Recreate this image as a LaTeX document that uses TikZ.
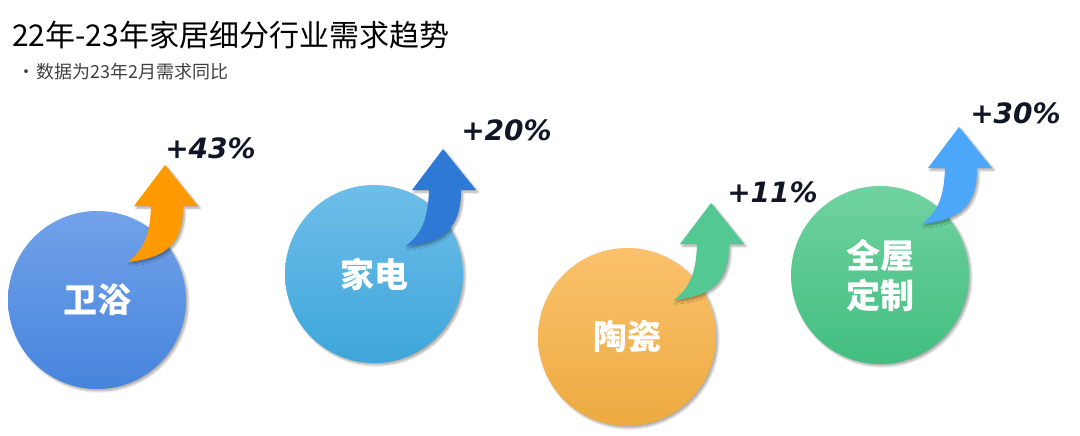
\documentclass[tikz,border=0pt]{standalone}
\usepackage{fontspec}
\usepackage{tikz}
\usetikzlibrary{shadows.blur}
\newfontfamily\cjk{Noto Sans CJK SC}
\newfontfamily\pctfont{DejaVu Sans}

\definecolor{weiyuTop}{RGB}{114,162,234}
\definecolor{weiyuBot}{RGB}{70,132,220}
\definecolor{jiadianTop}{RGB}{110,190,234}
\definecolor{jiadianBot}{RGB}{62,166,218}
\definecolor{taociTop}{RGB}{251,193,108}
\definecolor{taociBot}{RGB}{236,170,64}
\definecolor{dingzhiTop}{RGB}{112,210,160}
\definecolor{dingzhiBot}{RGB}{66,190,128}
\definecolor{arrowOrange}{RGB}{255,153,0}
\definecolor{arrowBlue}{RGB}{46,120,214}
\definecolor{arrowGreen}{RGB}{84,200,146}
\definecolor{arrowSky}{RGB}{76,166,250}
\definecolor{pctInk}{RGB}{16,22,38}
\definecolor{subInk}{RGB}{64,64,64}

\tikzset{
  ball/.style={circle, minimum size=133.5pt, inner sep=0pt, shading=axis,
    text=white, font=\cjk\bfseries\fontsize{25.5}{32}\selectfont, align=center,
    blur shadow={shadow xshift=1.5pt, shadow yshift=-1.5pt, shadow blur steps=6, shadow opacity=35}},
  pct/.style={anchor=west, inner sep=0pt, text=pctInk,
    font=\pctfont\bfseries\itshape\fontsize{21}{25}\selectfont},
  growarrow/.pic={
    \fill[yscale=-1, blur shadow={shadow xshift=1.5pt, shadow yshift=-1.5pt, shadow blur steps=5, shadow opacity=35}]
      (0,0) -- (33,41) -- (18,41) .. controls (18,80) and (0,93) .. (-37,97)
      .. controls (-22,85) and (-15,72) .. (-14,41) -- (-31,41) -- cycle;
  }
}

\begin{document}
\begin{tikzpicture}[x=0.75pt,y=0.75pt,yscale=-1,xscale=1]
  \useasboundingbox (0,0) rectangle (1080,435);
  \node (title)    at (12,35) [anchor=west, inner sep=0pt, font=\cjk\fontsize{22.5}{27}\selectfont] {22年-23年家居细分行业需求趋势};
  \node (subtitle) at (17,72) [anchor=west, inner sep=0pt, text=subInk, font=\cjk\fontsize{13.5}{16}\selectfont] {•\hspace{1pt}数据为23年2月需求同比};
  % circles
  \node (weiyu)   at (97,300)  [ball, top color=weiyuTop, bottom color=weiyuBot]     {卫浴};
  \node (jiadian) at (374,274) [ball, top color=jiadianTop, bottom color=jiadianBot] {家电};
  \node (taoci)   at (627,337) [ball, top color=taociTop, bottom color=taociBot]     {陶瓷};
  \node (dingzhi) at (880,275) [ball, top color=dingzhiTop, bottom color=dingzhiBot] {全屋\\[-2pt]定制};
  % arrows
  \pic [fill=arrowOrange] at (165,165) {growarrow};
  \pic [fill=arrowBlue]   at (443,149) {growarrow};
  \pic [fill=arrowGreen]  at (711,203) {growarrow};
  \pic [fill=arrowSky]    at (959,127) {growarrow};
  % growth labels
  \node (weiyu-pct)   at (165,148) [pct] {+43\%};
  \node (jiadian-pct) at (461,130) [pct] {+20\%};
  \node (taoci-pct)   at (727,192) [pct] {+11\%};
  \node (dingzhi-pct) at (970,113) [pct] {+30\%};
\end{tikzpicture}
\end{document}
